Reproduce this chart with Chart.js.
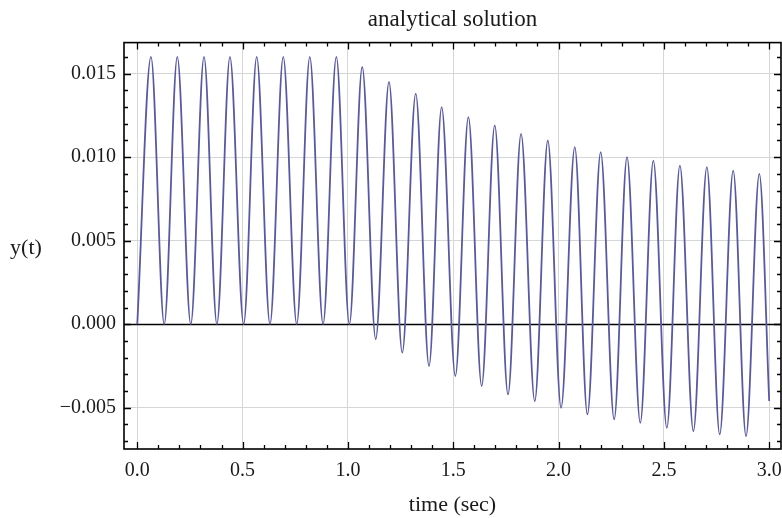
<!DOCTYPE html>
<html>
<head>
<meta charset="utf-8">
<script src="https://cdn.jsdelivr.net/npm/chart.js@4/dist/chart.umd.min.js"></script>
<style>
  html, body { margin: 0; padding: 0; background: #ffffff; }
  #wrap { width: 782px; height: 518px; position: relative; }
</style>
</head>
<body>
<div id="wrap"><canvas id="c" width="782" height="518"></canvas></div>
<script>
// ---- data (extrema of the response curve) ----
const timeSec = [0, 0.065, 0.128, 0.190, 0.254, 0.317, 0.378, 0.440, 0.505, 0.567, 0.630, 0.693, 0.757, 0.819, 0.882, 0.945, 1.007,
  1.068, 1.132, 1.195, 1.258, 1.322, 1.385, 1.445, 1.510, 1.572, 1.635, 1.697, 1.760, 1.822, 1.887, 1.949, 2.012,
  2.077, 2.137, 2.200, 2.264, 2.325, 2.388, 2.450, 2.514, 2.576, 2.640, 2.704, 2.765, 2.829, 2.890, 2.953, 3.000];
const yValues = [0, 0.0160, 0, 0.0160, 0, 0.0160, 0, 0.0160, 0, 0.0160, 0, 0.0160, 0, 0.0160, 0, 0.0160, 0,
  0.0154, -0.0009, 0.0145, -0.0017, 0.0138, -0.0025, 0.0130, -0.0031, 0.0124, -0.0037, 0.0119, -0.0042, 0.0114, -0.0046, 0.0110, -0.0050,
  0.0106, -0.0054, 0.0103, -0.0057, 0.0100, -0.0059, 0.0098, -0.0062, 0.0095, -0.0064, 0.0094, -0.0066, 0.0092, -0.0067, 0.0090, -0.0046];
const xTickValues = [0, 0.5, 1.0, 1.5, 2.0, 2.5, 3.0];
const xTickLabels = ['0.0', '0.5', '1.0', '1.5', '2.0', '2.5', '3.0'];
const yTickValues = [-0.005, 0, 0.005, 0.010, 0.015];
const yTickLabels = ['\u22120.005', '0.000', '0.005', '0.010', '0.015'];
const titleText = 'analytical solution';
const xTitle = 'time (sec)';
const yTitle = 'y(t)';

const SERIF = '"Liberation Serif", "Times New Roman", serif';
const TEXT = '#1a1a1a';

const points = timeSec.map((t, i) => ({ x: t, y: yValues[i] }));

const framePlugin = {
  id: 'frame',
  beforeDatasetsDraw(chart) {
    const { ctx, chartArea: a, scales: { y } } = chart;
    const y0 = Math.round(y.getPixelForValue(0)) + 0.5;
    ctx.save();
    ctx.strokeStyle = '#000';
    ctx.lineWidth = 1.5;
    ctx.beginPath();
    ctx.moveTo(a.left, y0);
    ctx.lineTo(a.right, y0);
    ctx.stroke();
    ctx.restore();
  },
  afterDatasetsDraw(chart) {
    const { ctx, chartArea: a, scales: { x, y } } = chart;
    ctx.save();
    ctx.strokeStyle = '#000';
    ctx.lineWidth = 1.6;
    ctx.strokeRect(a.left, a.top, a.right - a.left, a.bottom - a.top);
    ctx.lineWidth = 1.3;
    ctx.beginPath();
    // x ticks (major every 0.5, minor every 0.1), inside on top and bottom
    for (let k = 0; k <= 30; k++) {
      const v = k / 10;
      const px = Math.round(x.getPixelForValue(v)) + 0.5;
      const len = (k % 5 === 0) ? 7 : 4;
      ctx.moveTo(px, a.bottom); ctx.lineTo(px, a.bottom - len);
      ctx.moveTo(px, a.top); ctx.lineTo(px, a.top + len);
    }
    // y ticks (major every 0.005, minor every 0.001), inside on left and right
    for (let k = -7; k <= 16; k++) {
      const v = k / 1000;
      const py = Math.round(y.getPixelForValue(v)) + 0.5;
      if (py < a.top + 1 || py > a.bottom - 1) continue;
      const len = (k % 5 === 0) ? 7 : 4;
      ctx.moveTo(a.left, py); ctx.lineTo(a.left + len, py);
      ctx.moveTo(a.right, py); ctx.lineTo(a.right - len, py);
    }
    ctx.stroke();
    ctx.restore();
  },
  afterDraw(chart) {
    const { ctx, chartArea: a } = chart;
    ctx.save();
    ctx.fillStyle = TEXT;
    ctx.font = '22px ' + SERIF;
    ctx.textAlign = 'center';
    ctx.textBaseline = 'middle';
    ctx.fillText(yTitle, 26, (a.top + a.bottom) / 2 + 2);
    ctx.restore();
  }
};

new Chart(document.getElementById('c'), {
  type: 'line',
  data: {
    datasets: [{
      data: points,
      borderColor: 'rgb(88, 88, 165)',
      borderWidth: 1.8,
      pointRadius: 0,
      fill: false,
      cubicInterpolationMode: 'monotone'
    }]
  },
  options: {
    responsive: false,
    animation: false,
    devicePixelRatio: 1,
    layout: { padding: { left: 0, right: 1, top: 0, bottom: 0 } },
    plugins: {
      legend: { display: false },
      tooltip: { enabled: false },
      title: {
        display: true,
        text: titleText,
        fullSize: false,
        color: TEXT,
        font: { family: SERIF, size: 23, weight: 'normal', lineHeight: 1.2 },
        padding: { top: 6, bottom: 9 }
      }
    },
    scales: {
      x: {
        type: 'linear',
        min: -0.063,
        max: 3.056,
        afterBuildTicks: s => { s.ticks = xTickValues.map(v => ({ value: v })); },
        afterFit: s => { s.height = 69; s.paddingLeft = 0; s.paddingRight = 0; },
        ticks: {
          padding: 10,
          color: TEXT,
          font: { family: SERIF, size: 20 },
          maxRotation: 0,
          autoSkip: false,
          callback: (v) => { const i = xTickValues.indexOf(v); return i >= 0 ? xTickLabels[i] : ''; }
        },
        grid: { color: '#d6d6d6', lineWidth: 1, drawTicks: false },
        border: { display: false },
        title: {
          display: true,
          text: xTitle,
          color: TEXT,
          font: { family: SERIF, size: 22 },
          padding: { top: 0, bottom: 0 }
        }
      },
      y: {
        type: 'linear',
        min: -0.00747,
        max: 0.01686,
        afterBuildTicks: s => { s.ticks = yTickValues.map(v => ({ value: v })); },
        afterFit: s => { s.width = 124; s.paddingTop = 0; s.paddingBottom = 0; },
        ticks: {
          padding: 8,
          color: TEXT,
          font: { family: SERIF, size: 20 },
          autoSkip: false,
          callback: (v) => { const i = yTickValues.findIndex(t => Math.abs(t - v) < 1e-9); return i >= 0 ? yTickLabels[i] : ''; }
        },
        grid: { color: '#d6d6d6', lineWidth: 1, drawTicks: false },
        border: { display: false }
      }
    }
  },
  plugins: [framePlugin]
});
</script>
</body>
</html>
